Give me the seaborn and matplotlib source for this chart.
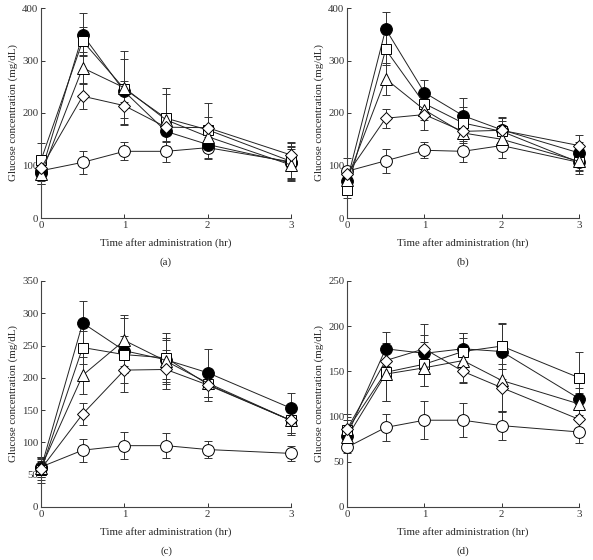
import numpy as np
import pandas as pd
import matplotlib
matplotlib.use("Agg")
import matplotlib.pyplot as plt
import seaborn as sns

# ==================================================
# DATA (mean and SD, mg/dL)
# ==================================================

times = [0, 0.5, 1, 1.5, 2, 3]
groups = ["filled circle", "square", "triangle", "diamond", "open circle"]

a_means = [
    [86, 349, 241, 165, 140, 105],
    [110, 337, 246, 190, 168, 108],
    [83, 286, 248, 187, 155, 101],
    [95, 232, 214, 173, 172, 120],
    [90, 106, 127, 127, 134, 107],
]
a_sds = [
    [22, 41, 20, 20, 28, 30],
    [32, 26, 56, 58, 25, 35],
    [18, 30, 70, 50, 20, 30],
    [15, 25, 35, 15, 47, 25],
    [20, 22, 17, 20, 20, 30],
]

b_means = [
    [70, 360, 239, 195, 168, 124],
    [53, 321, 218, 181, 165, 106],
    [73, 265, 206, 162, 150, 108],
    [83, 190, 197, 165, 167, 138],
    [89, 109, 129, 127, 138, 106],
]
b_sds = [
    [15, 33, 24, 33, 22, 20],
    [15, 30, 25, 30, 20, 22],
    [12, 30, 20, 20, 20, 18],
    [10, 18, 29, 15, 25, 20],
    [25, 23, 15, 20, 24, 15],
]

c_means = [
    [60, 285, 242, 228, 208, 153],
    [57, 247, 236, 231, 190, 134],
    [61, 204, 258, 226, 192, 134],
    [59, 144, 212, 213, 189, 134],
    [62, 88, 95, 95, 89, 83],
]
c_sds = [
    [18, 34, 50, 30, 37, 24],
    [20, 25, 29, 38, 20, 20],
    [15, 29, 39, 35, 22, 20],
    [12, 17, 34, 30, 25, 23],
    [12, 18, 21, 19, 13, 12],
]

d_means = [
    [79, 175, 170, 175, 172, 120],
    [85, 149, 158, 172, 178, 143],
    [77, 147, 154, 162, 140, 114],
    [86, 162, 175, 150, 132, 97],
    [66, 88, 96, 96, 90, 83],
]
d_sds = [
    [12, 19, 20, 18, 30, 12],
    [18, 32, 24, 20, 25, 29],
    [10, 30, 20, 25, 35, 12],
    [10, 15, 27, 12, 26, 10],
    [6, 15, 21, 19, 16, 12],
]

panel_labels = ["(a)", "(b)", "(c)", "(d)"]
y_maxes = [400, 400, 350, 250]
y_steps = [100, 100, 50, 50]

# ==================================================
# STYLE
# ==================================================

sns.set_style("ticks")
plt.rcParams["font.family"] = ["Liberation Serif", "DejaVu Serif"]
plt.rcParams["font.size"] = 7.8

marker_styles = {
    "filled circle": dict(marker="o", ms=8.5, mfc="black"),
    "square": dict(marker="s", ms=7.5, mfc="white"),
    "triangle": dict(marker="^", ms=8.5, mfc="white"),
    "diamond": dict(marker="D", ms=6, mfc="white"),
    "open circle": dict(marker="o", ms=8.5, mfc="white"),
}

# open circles sit underneath the other groups
z_order = {"open circle": 3, "filled circle": 4, "square": 5,
           "triangle": 6, "diamond": 7}

# axes rectangles in figure pixels: left, right, y0 pixel, ytop pixel
W, H = 593, 560
rects = [
    (41, 291, 218, 8),
    (347, 579, 218, 8),
    (41, 291, 507, 281),
    (347, 579, 507, 281),
]

fig = plt.figure(figsize=(W / 100, H / 100), dpi=100)

panels = [(a_means, a_sds), (b_means, b_sds), (c_means, c_sds), (d_means, d_sds)]

for i, (means, sds) in enumerate(panels):
    left, right, y0, ytop = rects[i]
    ax = fig.add_axes([left / W, (H - y0) / H, (right - left) / W, (y0 - ytop) / H])

    for g, name in enumerate(groups):
        df = pd.DataFrame({"time": times, "glucose": means[g], "sd": sds[g]})

        ax.errorbar(
            df["time"], df["glucose"], yerr=df["sd"],
            fmt="none", ecolor="#333333", elinewidth=0.7,
            capsize=3.2, capthick=0.7, zorder=2, clip_on=False
        )

        sns.lineplot(
            data=df, x="time", y="glucose", ax=ax,
            color="#222222", linewidth=0.7,
            mec="black", mew=0.7,
            clip_on=False, zorder=z_order[name],
            **marker_styles[name]
        )

    ax.set_xlim(0, 3)
    ax.set_ylim(0, y_maxes[i])
    ax.set_xticks([0, 1, 2, 3])
    ax.set_yticks(np.arange(0, y_maxes[i] + 1, y_steps[i]))
    ax.tick_params(direction="in", length=3, width=0.7, pad=2,
                   colors="#333333", labelsize=7.8)

    for side in ["top", "right"]:
        ax.spines[side].set_visible(False)
    for side in ["left", "bottom"]:
        ax.spines[side].set_linewidth(0.8)
        ax.spines[side].set_color("#444444")

    ax.set_xlabel("Time after administration (hr)", fontsize=7.8, labelpad=6)
    ax.set_ylabel("Glucose concentration (mg/dL)", fontsize=7.8, labelpad=3)

    ax.text(0.5, -0.21 if i < 2 else -0.195, panel_labels[i],
            transform=ax.transAxes, ha="center", va="center", fontsize=7.8)

fig.savefig("out.png", dpi=100)
